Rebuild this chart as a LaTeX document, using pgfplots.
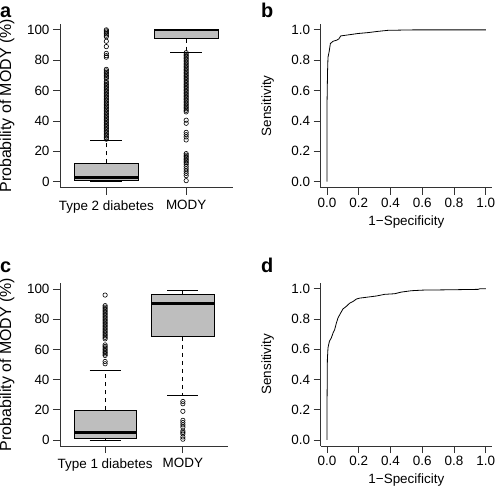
\documentclass[border=0pt]{standalone}
\usepackage{fontspec}
\setmainfont{Liberation Sans}
\usepackage{pgfplots}
\pgfplotsset{compat=1.18}
\definecolor{boxgray}{HTML}{BEBEBE}
\definecolor{axgray}{HTML}{333333}
\pgfplotsset{
  rstyle/.style={
    scale only axis,
    axis x line*=bottom, axis y line*=left,
    axis line style={axgray, line width=0.8bp, -},
    tick align=outside,
    major tick length=7bp,
    tick style={axgray, line width=0.8bp},
    tick label style={font=\fontsize{13.5}{16}\selectfont},
    /pgf/number format/assume math mode=true,
    every axis y label/.style={at={([xshift=-53bp]rel axis cs:0,0.5)}, rotate=90, anchor=center, font=\fontsize{13.5}{16}\selectfont},
    every axis x label/.style={at={([yshift=-34bp]rel axis cs:0.5,0)}, anchor=center, font=\fontsize{13.5}{16}\selectfont},
    clip=false,
  },
  boxaxis/.style={rstyle, xmin=0.42, xmax=2.58, ymin=-4, ymax=104,
    xtick={1,2}, ytick={0,20,40,60,80,100}, ylabel={Probability of MODY (\%)},
    ylabel style={font=\fontsize{16}{19}\selectfont},
    xticklabel style={yshift=-2bp}},
  rocaxis/.style={rstyle, xmin=-0.04, xmax=1.04, ymin=-0.04, ymax=1.04,
    xtick={0,0.2,0.4,0.6,0.8,1}, ytick={0,0.2,0.4,0.6,0.8,1},
    xlabel={1−Specificity}, ylabel={Sensitivity},
    /pgf/number format/fixed, /pgf/number format/fixed zerofill, /pgf/number format/precision=1},
  boxst/.style={fill=boxgray, draw=black, line width=0.8bp},
  whisk/.style={black, line width=0.8bp, dash pattern=on 4bp off 4bp},
  capst/.style={black, line width=0.8bp},
  medst/.style={black, line width=2.7bp},
  outl/.style={only marks, mark=o, mark size=2.2bp, black, mark options={line width=0.6bp}},
  rocst/.style={black, line width=0.8bp},
}
\begin{document}
\begin{tikzpicture}
% ---------- a ----------
\begin{axis}[boxaxis, at={(60bp,309.2bp)}, anchor=south west, width=172.5bp, height=164bp,
  xticklabels={Type 2 diabetes, MODY}]
\addplot[boxst] coordinates {(0.6,1) (1.4,1) (1.4,12) (0.6,12) (0.6,1)};
\addplot[whisk] coordinates {(1,12) (1,27)};
\addplot[whisk] coordinates {(1,1) (1,0)};
\addplot[capst] coordinates {(0.8,27) (1.2,27)};
\addplot[capst] coordinates {(0.8,0) (1.2,0)};
\addplot[medst] coordinates {(0.6,2.6) (1.4,2.6)};
\addplot[outl] coordinates {(1,100) (1,99.3) (1,98.5) (1,97.5) (1,96.5) (1,95.5) (1,92.5) (1,89) (1,84.5) (1,83) (1,82)
 (1,74) (1,73) (1,72) (1,71) (1,70) (1,69) (1,68) (1,66) (1,65) (1,64) (1,63) (1,62) (1,61) (1,60) (1,59) (1,58)
 (1,57) (1,56) (1,55) (1,54) (1,53) (1,52) (1,51) (1,50) (1,49) (1,48) (1,47) (1,46) (1,45) (1,44) (1,43) (1,42)
 (1,41) (1,40) (1,39) (1,38) (1,37) (1,36) (1,35) (1,34) (1,33) (1,32) (1,31) (1,30) (1,29) (1,28)};
\addplot[boxst] coordinates {(1.6,94.3) (2.4,94.3) (2.4,100) (1.6,100) (1.6,94.3)};
\addplot[whisk] coordinates {(2,94.3) (2,85)};
\addplot[capst] coordinates {(1.8,85) (2.2,85)};
\addplot[capst] coordinates {(1.8,100) (2.2,100)};
\addplot[medst] coordinates {(1.6,100) (2.4,100)};
\addplot[outl] coordinates {(2,85) (2,84) (2,83) (2,82) (2,81) (2,80) (2,79) (2,78) (2,77) (2,76) (2,75) (2,74) (2,73)
 (2,72) (2,71) (2,70) (2,69) (2,68) (2,67) (2,66) (2,65) (2,64) (2,63) (2,62) (2,61) (2,60) (2,59) (2,58) (2,57)
 (2,56) (2,55) (2,54) (2,53) (2,52) (2,51) (2,50) (2,49) (2,48) (2,47) (2,46) (2,40.5) (2,38.5) (2,32.5) (2,31)
 (2,29.5) (2,27.5) (2,18.5) (2,17.5) (2,16.5) (2,15.5) (2,14.5) (2,13.5) (2,12.5) (2,11.5) (2,10) (2,8.5) (2,7)
 (2,5.5) (2,4) (2,0.7)};
\end{axis}
% ---------- b ----------
\begin{axis}[rocaxis, at={(320.7bp,309.2bp)}, anchor=south west, width=171.4bp, height=164bp]
\addplot[rocst] coordinates {(0,0) (0,0.52) (0.003,0.72) (0.006,0.82) (0.013,0.855) (0.021,0.91) (0.038,0.925)
 (0.06,0.932) (0.074,0.94) (0.086,0.96) (0.12,0.965) (0.195,0.976) (0.258,0.982) (0.32,0.99) (0.384,0.997)
 (0.55,1) (1,1)};
\end{axis}
% ---------- c ----------
\begin{axis}[boxaxis, at={(60bp,51bp)}, anchor=south west, width=168bp, height=163bp,
  xticklabels={Type 1 diabetes, MODY}]
\addplot[boxst] coordinates {(0.6,1.1) (1.4,1.1) (1.4,19.8) (0.6,19.8) (0.6,1.1)};
\addplot[whisk] coordinates {(1,19.8) (1,46)};
\addplot[whisk] coordinates {(1,1.1) (1,0)};
\addplot[capst] coordinates {(0.8,46) (1.2,46)};
\addplot[capst] coordinates {(0.8,0) (1.2,0)};
\addplot[medst] coordinates {(0.6,5) (1.4,5)};
\addplot[outl] coordinates {(1,96) (1,89) (1,88) (1,87) (1,86) (1,85) (1,84) (1,83) (1,82) (1,81) (1,80) (1,79)
 (1,78) (1,77) (1,76) (1,75) (1,74) (1,73) (1,72) (1,71) (1,70) (1,69) (1,68) (1,67) (1,63) (1,62) (1,61) (1,60)
 (1,59) (1,58) (1,57) (1,56) (1,52) (1,50.5)};
\addplot[boxst] coordinates {(1.6,68.3) (2.4,68.3) (2.4,96.3) (1.6,96.3) (1.6,68.3)};
\addplot[whisk] coordinates {(2,96.3) (2,99.2)};
\addplot[whisk] coordinates {(2,68.3) (2,29.5)};
\addplot[capst] coordinates {(1.8,99.2) (2.2,99.2)};
\addplot[capst] coordinates {(1.8,29.5) (2.2,29.5)};
\addplot[medst] coordinates {(1.6,90.2) (2.4,90.2)};
\addplot[outl] coordinates {(2,25.5) (2,24) (2,19) (2,13) (2,11.5) (2,10) (2,8.5) (2,6) (2,5) (2,4) (2,2) (2,0.5)};
\end{axis}
% ---------- d ----------
\begin{axis}[rocaxis, at={(320.7bp,51bp)}, anchor=south west, width=171.4bp, height=163.3bp]
\addplot[rocst] coordinates {(0,0) (0,0.246) (0.002,0.53) (0.006,0.61) (0.015,0.653) (0.027,0.675) (0.038,0.708)
 (0.048,0.73) (0.059,0.774) (0.069,0.807) (0.086,0.84) (0.1,0.866) (0.122,0.884) (0.143,0.905) (0.164,0.916)
 (0.185,0.932) (0.206,0.938) (0.258,0.945) (0.311,0.952) (0.363,0.963) (0.426,0.967) (0.468,0.978) (0.532,0.987)
 (0.605,0.991) (0.763,0.993) (0.952,0.996) (0.962,1) (1,1)};
\end{axis}
% panel letters
\node[anchor=base west, inner sep=0, font=\bfseries\fontsize{20}{24}\selectfont] at (0bp,479.7bp) {a};
\node[anchor=base west, inner sep=0, font=\bfseries\fontsize{20}{24}\selectfont] at (261bp,479.7bp) {b};
\node[anchor=base west, inner sep=0, font=\bfseries\fontsize{20}{24}\selectfont] at (0bp,224bp) {c};
\node[anchor=base west, inner sep=0, font=\bfseries\fontsize{20}{24}\selectfont] at (261bp,224bp) {d};
\pgfresetboundingbox
\path[use as bounding box] (0bp,0bp) rectangle (496bp,497bp);
\end{tikzpicture}
\end{document}
